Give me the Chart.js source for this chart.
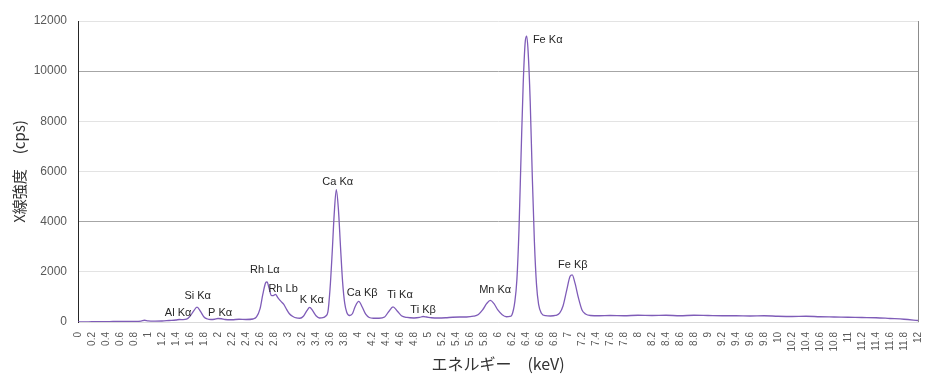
<!DOCTYPE html>
<html>
<head>
<meta charset="utf-8">
<script src="https://cdn.jsdelivr.net/npm/chart.js@4"></script>
<style>
  html, body { margin: 0; padding: 0; background: #fff; }
  #wrap { width: 933px; height: 374px; }
</style>
</head>
<body>
<div id="wrap"><canvas id="spec"></canvas></div>
<script>
// energía (keV) y cuentas
const energyKeV = [
  0, 0.1, 0.2, 0.3, 0.4, 0.5, 0.6, 0.7, 0.8, 0.9, 0.95, 1.0, 1.1, 1.2, 1.3, 1.4, 1.45, 1.5, 1.55,
  1.6, 1.65, 1.7, 1.75, 1.8, 1.85, 1.9, 1.95, 2.0, 2.05, 2.1, 2.2, 2.3, 2.4, 2.5, 2.55,
  2.6, 2.64, 2.68, 2.7, 2.73, 2.76, 2.79, 2.82, 2.86, 2.9, 2.94, 2.98, 3.02, 3.07, 3.12, 3.17,
  3.22, 3.27, 3.31, 3.35, 3.4, 3.45, 3.5, 3.54, 3.57, 3.6, 3.63, 3.66, 3.69, 3.72, 3.75, 3.78,
  3.81, 3.84, 3.88, 3.92, 3.96, 4.01, 4.06, 4.11, 4.16, 4.22, 4.3, 4.38, 4.44, 4.5, 4.56, 4.62,
  4.7, 4.8, 4.88, 4.93, 4.98, 5.05, 5.15, 5.25, 5.35, 5.45, 5.55, 5.65, 5.72, 5.78, 5.84, 5.89,
  5.94, 6.0, 6.06, 6.12, 6.17, 6.2, 6.24, 6.27, 6.3, 6.33, 6.36, 6.39, 6.41, 6.43, 6.46, 6.49,
  6.52, 6.55, 6.58, 6.62, 6.68, 6.75, 6.82, 6.88, 6.93, 6.98, 7.03, 7.06, 7.1, 7.15, 7.2, 7.25,
  7.32, 7.45, 7.6, 7.8, 8.0, 8.2, 8.4, 8.6, 8.8, 9.0, 9.2, 9.4, 9.6, 9.8, 10.0, 10.2, 10.4,
  10.6, 10.8, 11.0, 11.2, 11.4, 11.6, 11.8, 12.0
];
const countsCps = [
  0, 5, 10, 15, 15, 20, 20, 25, 25, 35, 70, 45, 35, 40, 60, 80, 100, 95, 110,
  230, 430, 590, 420, 200, 120, 100, 110, 140, 130, 100, 90, 110, 100, 120, 200,
  520, 1100, 1560, 1600, 1350, 1060, 1050, 1100, 950, 820, 700, 500, 330, 220, 160, 150,
  230, 450, 580, 460, 250, 160, 170, 240, 400, 1300, 2700, 4300, 5280, 4500, 3000, 1600,
  750, 380, 260, 330, 620, 820, 600, 310, 180, 150, 150, 200, 420, 600, 440, 250,
  180, 160, 180, 220, 200, 170, 160, 170, 190, 200, 200, 230, 300, 480, 740, 860,
  740, 470, 290, 210, 220, 290, 800, 1700, 3700, 6700, 9500, 11200, 11400, 10800, 8800, 5800,
  3200, 1500, 700, 350, 250, 240, 260, 350, 650, 1250, 1820, 1880, 1550, 950, 480, 320,
  260, 250, 260, 250, 270, 260, 270, 250, 270, 260, 250, 250, 240, 250, 230, 220, 230,
  210, 200, 190, 180, 170, 140, 110, 60
];

// etiquetas de picos (texto, energía, altura)
const peakNames = ['Al Kα', 'Si Kα', 'P Kα', 'Rh Lα', 'Rh Lb', 'K Kα', 'Ca Kα', 'Ca Kβ', 'Ti Kα', 'Ti Kβ', 'Mn Kα', 'Fe Kα', 'Fe Kβ'];
const peakE    = [1.43, 1.71, 2.03, 2.67, 2.93, 3.34, 3.71, 4.06, 4.60, 4.93, 5.96, 6.71, 7.07];
const peakY    = [360, 1035, 360, 2070, 1310, 880, 5580, 1150, 1075, 480, 1275, 11235, 2270];

const yTicks = [0, 2000, 4000, 6000, 8000, 10000, 12000];
const darkGrid = [4000, 10000];

const latin = '"Liberation Sans", Arial, sans-serif';
const cjk = '"Noto Sans CJK JP", "Liberation Sans", sans-serif';

const peakLabelPlugin = {
  id: 'peakLabels',
  afterDatasetsDraw(chart) {
    const { ctx, scales: { x, y }, chartArea } = chart;
    ctx.save();
    // borde derecho
    ctx.strokeStyle = '#8c8c8c';
    ctx.lineWidth = 1;
    ctx.beginPath();
    ctx.moveTo(Math.round(chartArea.right) + 0.5, chartArea.top);
    ctx.lineTo(Math.round(chartArea.right) + 0.5, chartArea.bottom);
    ctx.stroke();

    ctx.font = '11px ' + latin;
    ctx.fillStyle = '#262626';
    ctx.textAlign = 'center';
    ctx.textBaseline = 'middle';
    peakNames.forEach((t, i) => {
      ctx.fillText(t, x.getPixelForValue(peakE[i]), y.getPixelForValue(peakY[i]));
    });
    ctx.restore();
  }
};

const ctx = document.getElementById('spec').getContext('2d');
new Chart(ctx, {
  type: 'line',
  data: {
    datasets: [{
      data: energyKeV.map((e, i) => ({ x: e, y: countsCps[i] })),
      borderColor: '#7f5cb8',
      borderWidth: 1.3,
      pointRadius: 0,
      cubicInterpolationMode: 'monotone',
      fill: false
    }]
  },
  options: {
    responsive: true,
    maintainAspectRatio: false,
    animation: false,
    layout: { padding: { top: 21, right: 15, left: 0, bottom: 0 } },
    plugins: { legend: { display: false }, tooltip: { enabled: false } },
    scales: {
      x: {
        type: 'linear',
        min: 0,
        max: 12,
        afterFit: (s) => { s.height = 52; },
        grid: { display: false },
        border: { color: '#d9d9d9' },
        ticks: {
          stepSize: 0.2,
          autoSkip: false,
          maxRotation: 90,
          minRotation: 90,
          padding: 2,
          color: '#595959',
          font: { family: latin, size: 10 },
          callback: (v) => String(Math.round(v * 10) / 10)
        },
        title: {
          display: true,
          text: 'エネルギー　(keV)',
          color: '#333',
          font: { family: cjk, size: 16 },
          padding: { top: 0, bottom: 0 }
        }
      },
      y: {
        min: 0,
        max: 12000,
        afterFit: (s) => { s.width = 78; },
        afterBuildTicks: (s) => { s.ticks = yTicks.map(v => ({ value: v })); },
        grid: {
          drawTicks: false,
          color: (c) => darkGrid.includes(c.tick && c.tick.value) ? '#a6a6a6' : '#e3e3e3'
        },
        border: { color: '#262626', width: 1 },
        ticks: {
          padding: 11,
          color: '#595959',
          font: { family: latin, size: 12 },
          callback: (v) => String(v)
        },
        title: {
          display: true,
          text: 'X線強度　(cps)',
          color: '#333',
          font: { family: cjk, size: 15 },
          padding: { top: 10, bottom: 0 }
        }
      }
    }
  },
  plugins: [peakLabelPlugin]
});
</script>
</body>
</html>
